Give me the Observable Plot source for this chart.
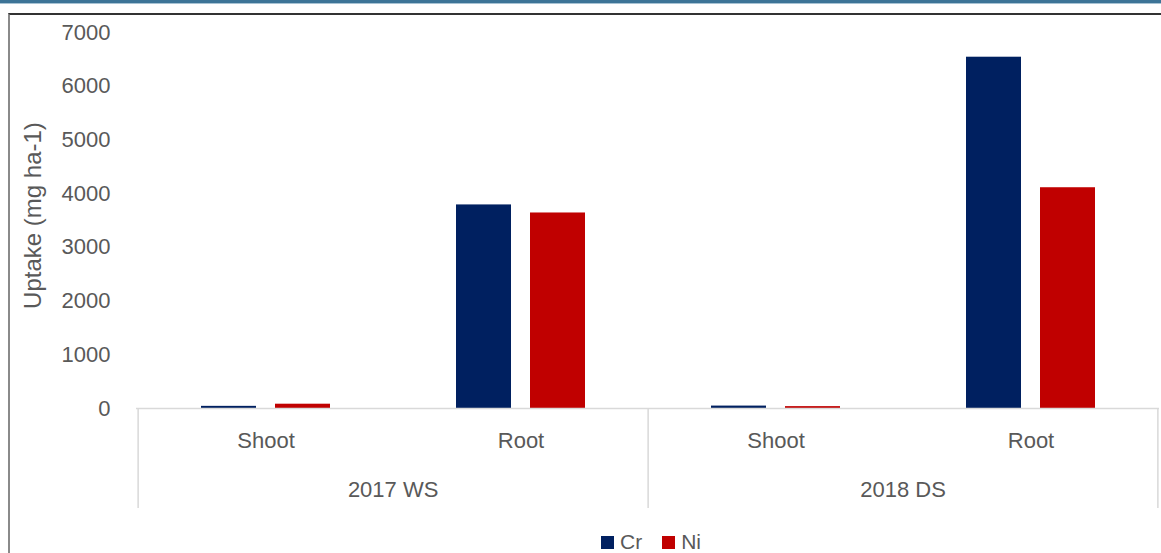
<!DOCTYPE html>
<html>
<head>
<meta charset="utf-8">
<script src="https://cdn.jsdelivr.net/npm/d3@7"></script>
<script src="https://cdn.jsdelivr.net/npm/@observablehq/plot@0.6"></script>
<style>
  html, body { margin: 0; padding: 0; background: #fff; width: 1161px; height: 553px; overflow: hidden; position: relative; }
  #topbar { position: absolute; left: 0; top: 0; width: 1161px; height: 3px; background: #3d7497; border-bottom: 1px solid #a8c3d4; }
  #frame { position: absolute; left: 8px; top: 13px; width: 1200px; height: 600px; border-top: 2px solid #333; border-left: 2px solid #8a8a8a; pointer-events: none; }
  #chart svg { display: block; }
  #legend { position: absolute; left: 601px; top: 530px; display: flex; align-items: center; font-family: "Liberation Sans", Arial, sans-serif; font-size: 21px; color: #595959; }
  #legend .sw { width: 13px; height: 13px; display: inline-block; margin-right: 6px; }
  #legend .item { display: flex; align-items: center; margin-right: 20px; }
</style>
</head>
<body>
<div id="topbar"></div>
<div id="chart"></div>
<div id="legend"></div>
<div id="frame"></div>
<script>
// ---- data ----
const seasons = ["2017 WS", "2017 WS", "2018 DS", "2018 DS"];
const parts = ["Shoot", "Root", "Shoot", "Root"];
const crValues = [40, 3790, 45, 6540];
const niValues = [80, 3640, 35, 4110];
const seriesNames = ["Cr", "Ni"];
const seriesColors = ["#002060", "#C00000"];
const yTicks = [0, 1000, 2000, 3000, 4000, 5000, 6000, 7000];
const yLabel = "Uptake (mg ha-1)";

const keys = seasons.map((s, i) => `${s}|${parts[i]}`);
const rows = keys.map((k, i) => ({key: k, season: seasons[i], part: parts[i], cr: crValues[i], ni: niValues[i]}));
const firstOfSeason = keys.filter((k, i) => i === 0 || seasons[i] !== seasons[i - 1]);
const lastOfSeason = keys.filter((k, i) => i === keys.length - 1 || seasons[i] !== seasons[i + 1]);

const W = 1161, ML = 136, MR = 2;
const half = (W - ML - MR) / keys.length / 2;
const grid = "#d9d9d9";

const chart = Plot.plot({
  width: W,
  height: 528,
  marginLeft: ML,
  marginRight: MR,
  marginTop: 32,
  marginBottom: 120,
  style: {fontFamily: "'Liberation Sans', Arial, sans-serif", fontSize: "22px", color: "#595959", background: "transparent"},
  x: {domain: keys, padding: 0, axis: null},
  y: {domain: [0, 7000], axis: null},
  marks: [
    Plot.axisY(yTicks, {tickSize: 0, tickPadding: 26, label: null, tickFormat: d => String(d), fill: "#595959"}),
    Plot.text([yLabel], {frameAnchor: "left", textAnchor: "middle", rotate: -90, dx: -103, dy: -5, fill: "#595959", fontSize: 24}),
    Plot.barY(rows, {x: "key", y: "cr", fill: seriesColors[0], insetLeft: 63, insetRight: 137}),
    Plot.barY(rows, {x: "key", y: "ni", fill: seriesColors[1], insetLeft: 137, insetRight: 63}),
    Plot.ruleY([0], {stroke: grid, strokeWidth: 1.5}),
    Plot.axisX({tickSize: 0, tickPadding: 24, label: null, tickFormat: k => k.split("|")[1], fill: "#595959"}),
    Plot.axisX(lastOfSeason, {tickSize: 0, tickPadding: 73, dx: -half, label: null, tickFormat: k => k.split("|")[0], fill: "#595959"}),
    Plot.axisX(firstOfSeason, {tickSize: 100, dx: -half, label: null, tickFormat: () => "", stroke: grid, strokeWidth: 1.5}),
    Plot.axisX([keys[keys.length - 1]], {tickSize: 100, dx: half - 1, label: null, tickFormat: () => "", stroke: grid, strokeWidth: 1.5})
  ]
});
document.getElementById("chart").appendChild(chart);

const legend = document.getElementById("legend");
seriesNames.forEach((name, i) => {
  const item = document.createElement("span");
  item.className = "item";
  const sw = document.createElement("span");
  sw.className = "sw";
  sw.style.background = seriesColors[i];
  item.appendChild(sw);
  item.appendChild(document.createTextNode(name));
  legend.appendChild(item);
});
</script>
</body>
</html>
